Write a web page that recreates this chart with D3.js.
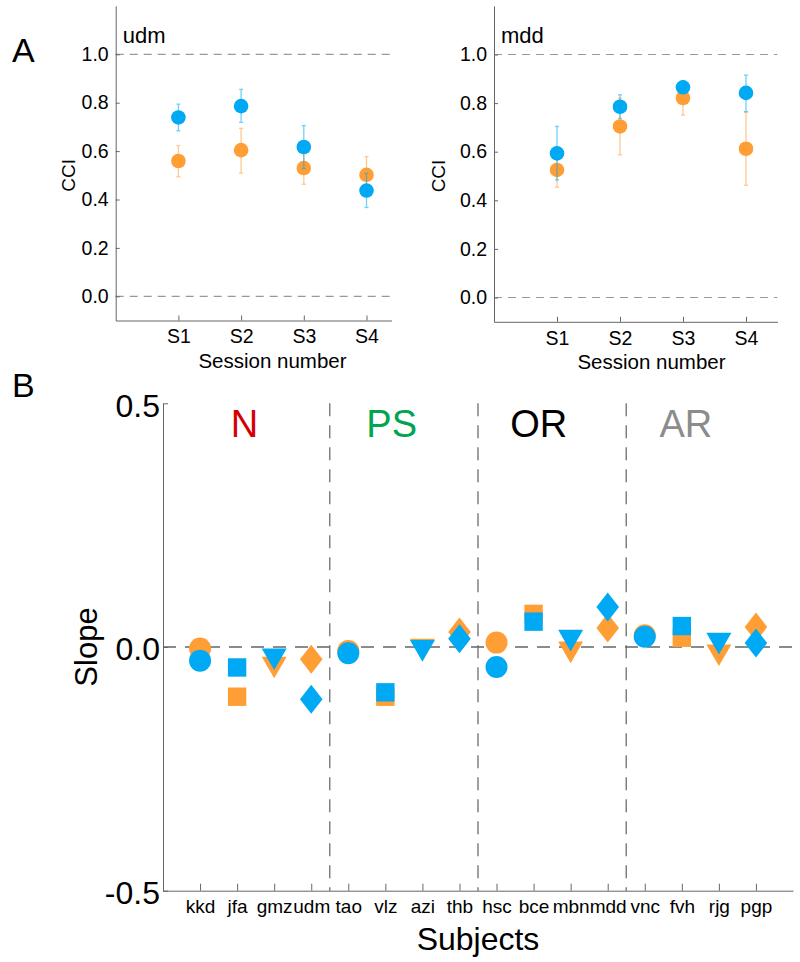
<!DOCTYPE html>
<html>
<head>
<meta charset="utf-8">
<script src="https://cdn.jsdelivr.net/npm/d3@7"></script>
<style>
  body { margin: 0; background: #fff; }
  text { font-family: "Liberation Sans", Arial, sans-serif; }
</style>
</head>
<body>
<div id="container"></div>
<script>
/* DATA */
const sessions = ["S1", "S2", "S3", "S4"]

// panel A, CCI per session (mean, lower, upper)
const udmBlue = [0.739, 0.786, 0.617, 0.437]
const udmBlueLo = [0.684, 0.719, 0.528, 0.367]
const udmBlueHi = [0.794, 0.855, 0.705, 0.508]
const udmOrange = [0.559, 0.604, 0.530, 0.502]
const udmOrangeLo = [0.494, 0.509, 0.463, 0.430]
const udmOrangeHi = [0.623, 0.694, 0.597, 0.577]

const mddBlue = [0.593, 0.785, 0.865, 0.842]
const mddBlueLo = [0.484, 0.737, 0.840, 0.765]
const mddBlueHi = [0.704, 0.834, 0.890, 0.915]
const mddOrange = [0.525, 0.704, 0.821, 0.612]
const mddOrangeLo = [0.454, 0.587, 0.751, 0.462]
const mddOrangeHi = [0.596, 0.820, 0.890, 0.762]

const cciTicks = [0, 0.2, 0.4, 0.6, 0.8, 1.0]

// panel B, slope per subject
const subjects = ["kkd", "jfa", "gmz", "udm", "tao", "vlz", "azi", "thb",
                  "hsc", "bce", "mbn", "mdd", "vnc", "fvh", "rjg", "pgp"]
const groups = ["N", "PS", "OR", "AR"]
const groupColors = ["#d40000", "#00a550", "#000000", "#8c8c8c"]
const slopeOrange = [-0.003, -0.102, -0.042, -0.025, -0.008, -0.102, -0.005, 0.031,
                     0.009, 0.068, -0.011, 0.039, 0.024, 0.019, -0.017, 0.041]
const slopeBlue = [-0.028, -0.042, -0.025, -0.107, -0.013, -0.093, -0.008, 0.017,
                   -0.041, 0.052, 0.013, 0.082, 0.021, 0.043, 0.007, 0.008]
const slopeTicks = [-0.5, 0, 0.5]

/* CONSTANTS */
const width = 800
const height = 962
const blue = "#00a9f4"
const orange = "#ff9e35"
const axisColor = "#666"

const svg = d3.select("#container")
  .append("svg")
  .attr("width", width)
  .attr("height", height)

// panel letters
svg.append("text").attr("x", 12).attr("y", 62).attr("font-size", 34).text("A")
svg.append("text").attr("x", 12).attr("y", 397).attr("font-size", 34).text("B")

/* PANEL A */
function drawSession(opts) {
  const xScale = d3.scaleLinear()
    .domain([0, opts.xMax])
    .range([opts.left, opts.left + opts.xMax * opts.step])

  const yScale = d3.scaleLinear()
    .domain([-0.1, 1.2])
    .range([opts.bottom, opts.bottom - 1.3 * opts.unit])

  const g = svg.append("g")

  // dashed reference lines at 0 and 1
  g.selectAll(".ref")
    .data([0, 1])
    .join("line")
    .attr("x1", xScale(0)).attr("x2", xScale(opts.xMax))
    .attr("y1", d => yScale(d)).attr("y2", d => yScale(d))
    .attr("stroke", "#999").attr("stroke-width", 1.2)
    .attr("stroke-dasharray", "8,6")

  const yAxis = d3.axisLeft(yScale)
    .tickValues(cciTicks)
    .tickFormat(d => d.toFixed(1))
    .tickSizeInner(-4)
    .tickSizeOuter(0)
    .tickPadding(7)

  const yAxisGroup = g.append("g")
    .attr("transform", `translate(${opts.left}, 0)`)
    .call(yAxis)

  const xAxis = d3.axisBottom(xScale)
    .tickValues([1, 2, 3, 4])
    .tickFormat(d => sessions[d - 1])
    .tickSizeInner(-5)
    .tickSizeOuter(0)
    .tickPadding(9)

  const xAxisGroup = g.append("g")
    .attr("transform", `translate(0, ${opts.bottom})`)
    .call(xAxis)

  for (const ax of [xAxisGroup, yAxisGroup]) {
    ax.select(".domain").attr("stroke", axisColor)
    ax.selectAll(".tick line").attr("stroke", axisColor)
    ax.selectAll(".tick text")
      .attr("font-family", "Liberation Sans, Arial, sans-serif")
      .attr("font-size", 19.5).attr("fill", "#000")
  }

  g.append("text")
    .attr("x", xScale(2.5)).attr("y", opts.bottom + 47)
    .attr("text-anchor", "middle").attr("font-size", 20.5)
    .text("Session number")

  g.append("text")
    .attr("transform", `translate(${opts.labelX}, ${yScale(0.5)}) rotate(-90)`)
    .attr("text-anchor", "middle").attr("font-size", 19)
    .text("CCI")

  g.append("text")
    .attr("x", opts.left + 7).attr("y", 43)
    .attr("font-size", 22)
    .text(opts.title)

  // orange first, blue on top
  const series = [
    { color: orange, mean: opts.orange, lo: opts.orangeLo, hi: opts.orangeHi },
    { color: blue, mean: opts.blue, lo: opts.blueLo, hi: opts.blueHi }
  ]
  series.forEach(s => {
    const pts = s.mean.map((m, i) => ({ x: i + 1, m: m, lo: s.lo[i], hi: s.hi[i] }))
    g.append("g").selectAll("circle")
      .data(pts)
      .join("circle")
      .attr("cx", d => xScale(d.x))
      .attr("cy", d => yScale(d.m))
      .attr("r", 7.3)
      .attr("fill", s.color)

    const eb = g.append("g")
      .attr("stroke", s.color).attr("stroke-width", 1.3).attr("opacity", 0.55)
    eb.selectAll(".bar").data(pts).join("line")
      .attr("x1", d => xScale(d.x)).attr("x2", d => xScale(d.x))
      .attr("y1", d => yScale(d.lo)).attr("y2", d => yScale(d.hi))
    eb.selectAll(".capLo").data(pts).join("line")
      .attr("x1", d => xScale(d.x) - 2).attr("x2", d => xScale(d.x) + 2)
      .attr("y1", d => yScale(d.lo)).attr("y2", d => yScale(d.lo))
    eb.selectAll(".capHi").data(pts).join("line")
      .attr("x1", d => xScale(d.x) - 2).attr("x2", d => xScale(d.x) + 2)
      .attr("y1", d => yScale(d.hi)).attr("y2", d => yScale(d.hi))
  })
}

drawSession({
  title: "udm", left: 115.7, step: 62.7, xMax: 4.4, bottom: 320.5, unit: 242,
  labelX: 75,
  blue: udmBlue, blueLo: udmBlueLo, blueHi: udmBlueHi,
  orange: udmOrange, orangeLo: udmOrangeLo, orangeHi: udmOrangeHi
})

drawSession({
  title: "mdd", left: 494, step: 63, xMax: 4.5, bottom: 321.8, unit: 243,
  labelX: 445,
  blue: mddBlue, blueLo: mddBlueLo, blueHi: mddBlueHi,
  orange: mddOrange, orangeLo: mddOrangeLo, orangeHi: mddOrangeHi
})

/* PANEL B */
const bLeft = 163
const bRight = 793
const xB = d3.scaleLinear()
  .domain([0, 17])
  .range([bLeft, bRight])

const yB = d3.scaleLinear()
  .domain([-0.5, 0.5])
  .range([890.7, 403.3])

const gB = svg.append("g")

// group dividers
gB.selectAll(".divider")
  .data([4.5, 8.5, 12.5])
  .join("line")
  .attr("x1", d => xB(d)).attr("x2", d => xB(d))
  .attr("y1", yB(0.5)).attr("y2", yB(-0.5))
  .attr("stroke", "#777").attr("stroke-width", 1.4)
  .attr("stroke-dasharray", "13,9")

// zero line
gB.append("line")
  .attr("x1", xB(0)).attr("x2", xB(17))
  .attr("y1", yB(0)).attr("y2", yB(0))
  .attr("stroke", "#666").attr("stroke-width", 1.5)
  .attr("stroke-dasharray", "13,9")

// group names
gB.selectAll(".group")
  .data(groups)
  .join("text")
  .attr("x", (d, i) => xB(2.2 + i * 3.97))
  .attr("y", 437)
  .attr("text-anchor", "middle")
  .attr("font-size", 38)
  .attr("fill", (d, i) => groupColors[i])
  .text(d => d)

const yAxisB = d3.axisLeft(yB)
  .tickValues(slopeTicks)
  .tickFormat(d => d.toFixed(1))
  .tickSizeInner(-5)
  .tickSizeOuter(0)
  .tickPadding(3)

const yAxisBGroup = gB.append("g")
  .attr("transform", `translate(${bLeft}, 0)`)
  .call(yAxisB)

yAxisBGroup.selectAll(".tick text").attr("dy", "0.4em")

const xAxisB = d3.axisBottom(xB)
  .tickValues(d3.range(1, subjects.length + 1))
  .tickFormat(d => subjects[d - 1])
  .tickSizeInner(-7)
  .tickSizeOuter(0)
  .tickPadding(9)

const xAxisBGroup = gB.append("g")
  .attr("transform", `translate(0, ${yB(-0.5)})`)
  .call(xAxisB)

yAxisBGroup.selectAll(".tick text")
  .attr("font-family", "Liberation Sans, Arial, sans-serif")
  .attr("font-size", 32).attr("fill", "#000")
xAxisBGroup.selectAll(".tick text")
  .attr("font-family", "Liberation Sans, Arial, sans-serif")
  .attr("font-size", 19).attr("fill", "#000")
for (const ax of [xAxisBGroup, yAxisBGroup]) {
  ax.select(".domain").attr("stroke", axisColor)
  ax.selectAll(".tick line").attr("stroke", axisColor)
}

gB.append("text")
  .attr("x", xB(8.5)).attr("y", 950)
  .attr("text-anchor", "middle").attr("font-size", 32)
  .text("Subjects")

gB.append("text")
  .attr("transform", `translate(97, ${yB(0)}) rotate(-90)`)
  .attr("text-anchor", "middle").attr("font-size", 31)
  .text("Slope")

// marker shapes: circle, square, down triangle, diamond (by position in group)
function markerPath(kind) {
  const p = d3.path()
  if (kind === 0) {
    p.arc(0, 0, 11, 0, 2 * Math.PI)
  } else if (kind === 1) {
    p.rect(-9.2, -9.2, 18.4, 18.4)
  } else if (kind === 2) {
    p.moveTo(-12.5, -10.8); p.lineTo(12.5, -10.8); p.lineTo(0, 10.8); p.closePath()
  } else {
    p.moveTo(0, -14.5); p.lineTo(11.3, 0); p.lineTo(0, 14.5); p.lineTo(-11.3, 0); p.closePath()
  }
  return p.toString()
}

const slopeSeries = [
  { color: orange, values: slopeOrange },
  { color: blue, values: slopeBlue }
]
slopeSeries.forEach(s => {
  gB.append("g").selectAll("path")
    .data(s.values)
    .join("path")
    .attr("transform", (d, i) => `translate(${xB(i + 1)}, ${yB(d)})`)
    .attr("d", (d, i) => markerPath(i % 4))
    .attr("fill", s.color)
})
</script>
</body>
</html>
